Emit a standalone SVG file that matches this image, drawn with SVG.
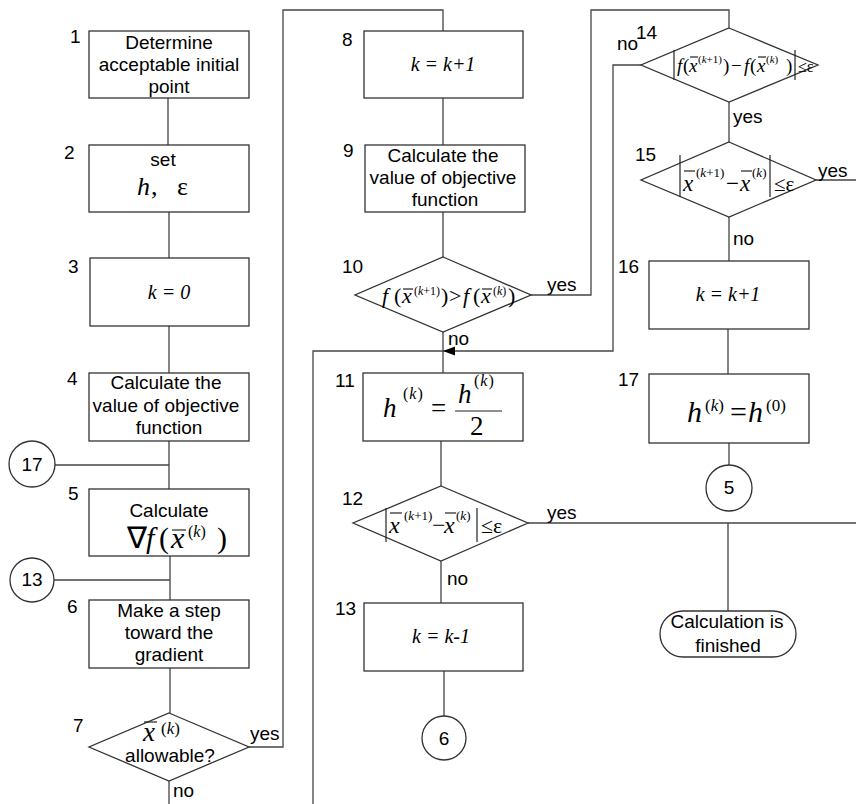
<svg xmlns="http://www.w3.org/2000/svg" width="856" height="804" viewBox="0 0 856 804">
<style>
.box{fill:#fff;stroke:#333;stroke-width:1.3}
.ln{fill:none;stroke:#444;stroke-width:1.3}
.bar{stroke:#222;stroke-width:1.2}
.t{font-family:"Liberation Sans",Arial,sans-serif;font-size:19px;fill:#000}
.c{text-anchor:middle}
.m{font-family:"Liberation Serif","Times New Roman",serif;fill:#000}
.i{font-style:italic}
</style>
<rect width="856" height="804" fill="#fff"/>
<g id="connectors">
<path class="ln" d="M168,98V145M169,212V258M169,326V373M169,441V489M55,465H169M170,556V600M54,580H170M170,668V713"/>
<path class="ln" d="M249,747H283V10H443V31M169,781V804"/>
<path class="ln" d="M443,98V145M443,212V257M531,295H591V10H729V28M443,332V373"/>
<path class="ln" d="M641,65H613V351H313V804"/>
<polygon points="443,351 455,346.5 455,355.5" fill="#000"/>
<path class="ln" d="M441,441V486M528,523H856M728,523V611M441,561V603M444,671V716"/>
<path class="ln" d="M729,102V142M816,180H856M729,217V261M728,329V374M729,443V465"/>
<text class="t" x="250" y="740">yes</text>
<text class="t" x="173" y="797">no</text>
<text class="t" x="547" y="291">yes</text>
<text class="t" x="448" y="345">no</text>
<text class="t" x="547" y="519">yes</text>
<text class="t" x="447" y="585">no</text>
<text class="t" x="617" y="50">no</text>
<text class="t" x="733" y="123">yes</text>
<text class="t" x="818" y="177">yes</text>
<text class="t" x="733" y="245">no</text>
</g>
<g id="n1">
<rect class="box" x="89" y="31" width="160" height="67"/>
<text class="t" x="70" y="43">1</text>
<text class="t c" x="169" y="49">Determine</text>
<text class="t c" x="169" y="71">acceptable initial</text>
<text class="t c" x="169" y="93">point</text>
</g>
<g id="n2">
<rect class="box" x="89" y="145" width="160" height="67"/>
<text class="t" x="64" y="159">2</text>
<text class="t c" x="163" y="166" font-size="21">set</text>
<text class="m" y="195" font-size="26"><tspan class="i" x="137">h</tspan><tspan x="151">,</tspan><tspan x="177">ε</tspan></text>
</g>
<g id="n3">
<rect class="box" x="90" y="258" width="159" height="68"/>
<text class="t" x="68" y="273">3</text>
<text class="m i c" x="169" y="299" font-size="20">k = 0</text>
</g>
<g id="n4">
<rect class="box" x="89" y="373" width="160" height="68"/>
<text class="t" x="67" y="385">4</text>
<text class="t c" x="166" y="389">Calculate the</text>
<text class="t c" x="166" y="412">value of objective</text>
<text class="t c" x="169" y="434">function</text>
</g>
<g id="c17">
<circle class="box" cx="32" cy="464" r="23"/>
<text class="t c" x="32" y="471">17</text>
</g>
<g id="n5">
<rect class="box" x="89" y="489" width="160" height="67"/>
<text class="t" x="68" y="500">5</text>
<text class="t c" x="169" y="517">Calculate</text>
<text class="m" y="548" font-size="30"><tspan x="127">∇</tspan><tspan class="i" x="146">f</tspan><tspan x="159">(</tspan><tspan class="i" x="171">x</tspan><tspan x="188" y="537" font-size="16">(</tspan><tspan class="i" font-size="16">k</tspan><tspan font-size="16">)</tspan><tspan x="217" y="548">)</tspan></text>
<line class="bar" x1="172" y1="530" x2="186" y2="530"/>
</g>
<g id="c13">
<circle class="box" cx="32" cy="580" r="22"/>
<text class="t c" x="32" y="586">13</text>
</g>
<g id="n6">
<rect class="box" x="89" y="600" width="160" height="68"/>
<text class="t" x="67" y="613">6</text>
<text class="t c" x="169" y="617">Make a step</text>
<text class="t c" x="169" y="639">toward the</text>
<text class="t c" x="169" y="661">gradient</text>
</g>
<g id="n7">
<polygon class="box" points="169,713 249,747 169,781 89,747"/>
<text class="t" x="73" y="732">7</text>
<text class="m" y="741" font-size="27"><tspan class="i" x="143">x</tspan><tspan x="161" y="734" font-size="17">(</tspan><tspan class="i" font-size="17">k</tspan><tspan font-size="17">)</tspan></text>
<line class="bar" x1="144" y1="722" x2="157" y2="722"/>
<text class="t c" x="170" y="762">allowable?</text>
</g>
<g id="n8">
<rect class="box" x="364" y="31" width="159" height="67"/>
<text class="t" x="342" y="46">8</text>
<text class="m i c" x="443" y="71" font-size="20">k = k+1</text>
</g>
<g id="n9">
<rect class="box" x="365" y="145" width="160" height="67"/>
<text class="t" x="343" y="157">9</text>
<text class="t c" x="443" y="162">Calculate the</text>
<text class="t c" x="443" y="184">value of objective</text>
<text class="t c" x="445" y="206">function</text>
</g>
<g id="n10">
<polygon class="box" points="443,257 531,295 443,332 355,295"/>
<text class="t" x="342" y="273">10</text>
<text class="m" y="303" font-size="22"><tspan class="i" x="382">f</tspan><tspan x="394">(</tspan><tspan class="i" x="402">x</tspan><tspan x="414" y="295" font-size="12">(</tspan><tspan class="i" font-size="12">k</tspan><tspan font-size="12">+1)</tspan><tspan x="441" y="303">)</tspan><tspan x="449">&gt;</tspan><tspan class="i" x="463">f</tspan><tspan x="473">(</tspan><tspan class="i" x="481">x</tspan><tspan x="493" y="295" font-size="12">(</tspan><tspan class="i" font-size="12">k</tspan><tspan font-size="12">)</tspan><tspan x="508" y="303">)</tspan></text>
<line class="bar" x1="403" y1="289" x2="413" y2="289"/>
<line class="bar" x1="482" y1="289" x2="492" y2="289"/>
</g>
<g id="n11">
<rect class="box" x="363" y="373" width="160" height="68"/>
<text class="t" x="335" y="387">11</text>
<text class="m" font-size="27"><tspan class="i" x="383" y="417">h</tspan><tspan x="403" y="399" font-size="16" letter-spacing="1">(</tspan><tspan class="i" font-size="16" letter-spacing="1">k</tspan><tspan font-size="16">)</tspan><tspan x="431" y="417">=</tspan><tspan class="i" x="458" y="403">h</tspan><tspan x="474" y="386" font-size="16" letter-spacing="1">(</tspan><tspan class="i" font-size="16" letter-spacing="1">k</tspan><tspan font-size="16">)</tspan><tspan x="470" y="435">2</tspan></text>
<line class="bar" x1="455" y1="411" x2="502" y2="411"/>
</g>
<g id="n12">
<polygon class="box" points="441,486 528,523 441,561 353,523"/>
<text class="t" x="342" y="505">12</text>
<line class="bar" x1="386" y1="508" x2="386" y2="542"/>
<line class="bar" x1="477" y1="508" x2="477" y2="542"/>
<text class="m" y="533" font-size="24"><tspan class="i" x="389">x</tspan><tspan x="404" y="520" font-size="13">(</tspan><tspan class="i" font-size="13">k</tspan><tspan font-size="13">+1)</tspan><tspan x="432" y="533">−</tspan><tspan class="i" x="444">x</tspan><tspan x="456" y="520" font-size="13">(</tspan><tspan class="i" font-size="13">k</tspan><tspan font-size="13">)</tspan><tspan x="481" y="533" font-size="22">≤ε</tspan></text>
<line class="bar" x1="390" y1="513" x2="402" y2="513"/>
<line class="bar" x1="445" y1="513" x2="456" y2="513"/>
</g>
<g id="n13">
<rect class="box" x="364" y="603" width="159" height="68"/>
<text class="t" x="335" y="615">13</text>
<text class="m i c" x="441" y="643" font-size="20">k = k-1</text>
</g>
<g id="c6">
<circle class="box" cx="444" cy="738" r="22"/>
<text class="t c" x="444" y="745">6</text>
</g>
<g id="n14">
<polygon class="box" points="729,28 818,65 729,102 641,65"/>
<text class="t" x="636" y="39">14</text>
<line class="bar" x1="674" y1="50" x2="674" y2="80"/>
<line class="bar" x1="795" y1="50" x2="795" y2="80"/>
<text class="m" y="72" font-size="19"><tspan class="i" x="677">f</tspan><tspan x="683">(</tspan><tspan class="i" x="689">x</tspan><tspan x="698" y="63" font-size="11">(</tspan><tspan class="i" font-size="11">k</tspan><tspan font-size="11">+1)</tspan><tspan x="723" y="72">)</tspan><tspan x="731">−</tspan><tspan class="i" x="744">f</tspan><tspan x="750">(</tspan><tspan class="i" x="757">x</tspan><tspan x="766" y="63" font-size="11">(</tspan><tspan class="i" font-size="11">k</tspan><tspan font-size="11">)</tspan><tspan x="786" y="72">)</tspan><tspan x="798" font-size="16">≤ε</tspan></text>
<line class="bar" x1="690" y1="57" x2="698" y2="57"/>
<line class="bar" x1="758" y1="57" x2="766" y2="57"/>
</g>
<g id="n15">
<polygon class="box" points="729,142 816,180 729,217 641,180"/>
<text class="t" x="635" y="161">15</text>
<line class="bar" x1="680" y1="155" x2="680" y2="197"/>
<line class="bar" x1="770" y1="155" x2="770" y2="197"/>
<text class="m" y="191" font-size="23"><tspan class="i" x="683">x</tspan><tspan x="696" y="177" font-size="13">(</tspan><tspan class="i" font-size="13">k</tspan><tspan font-size="13">+1)</tspan><tspan x="726" y="191">−</tspan><tspan class="i" x="740">x</tspan><tspan x="752" y="177" font-size="13">(</tspan><tspan class="i" font-size="13">k</tspan><tspan font-size="13">)</tspan><tspan x="774" y="191" font-size="21">≤ε</tspan></text>
<line class="bar" x1="684" y1="171" x2="695" y2="171"/>
<line class="bar" x1="741" y1="171" x2="752" y2="171"/>
</g>
<g id="n16">
<rect class="box" x="649" y="261" width="160" height="68"/>
<text class="t" x="618" y="273">16</text>
<text class="m i c" x="728" y="301" font-size="20">k = k+1</text>
</g>
<g id="n17">
<rect class="box" x="649" y="374" width="160" height="69"/>
<text class="t" x="618" y="386">17</text>
<text class="m" font-size="30"><tspan class="i" x="687" y="422">h</tspan><tspan x="705" y="411" font-size="17">(</tspan><tspan class="i" font-size="17">k</tspan><tspan font-size="17">)</tspan><tspan x="730" y="422">=</tspan><tspan class="i" x="748">h</tspan><tspan x="766" y="411" font-size="17">(0)</tspan></text>
</g>
<g id="c5">
<circle class="box" cx="729" cy="488" r="23"/>
<text class="t c" x="729" y="494">5</text>
</g>
<g id="end">
<rect class="box" x="660" y="611" width="136" height="46" rx="23"/>
<text class="t c" x="727" y="628">Calculation is</text>
<text class="t c" x="728" y="652">finished</text>
</g>
</svg>
